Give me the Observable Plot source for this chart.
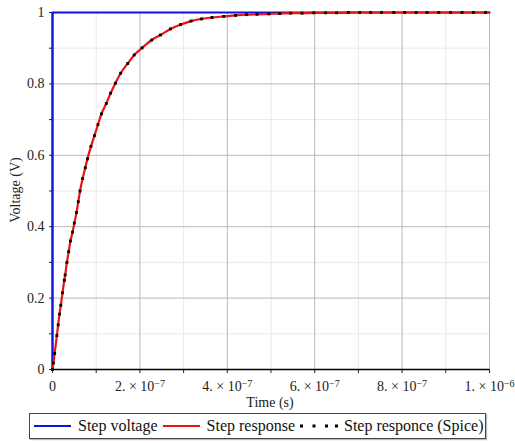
<!DOCTYPE html>
<html><head><meta charset="utf-8">
<script src="https://cdn.jsdelivr.net/npm/d3@7"></script>
<script src="https://cdn.jsdelivr.net/npm/@observablehq/plot@0.6"></script>
<style>
body{margin:0;background:#fff;font-family:"Liberation Serif",serif;}
#wrap{position:relative;width:515px;height:443px;overflow:hidden;}
#legend{position:absolute;left:29px;top:413px;width:455px;height:24px;border:1px solid #444;box-shadow:1px 1px 1px #bbb;display:flex;align-items:center;font-family:"Liberation Serif",serif;font-size:16px;color:#111;white-space:nowrap;}
#legend svg{flex:none;}
#chart svg text{font-family:"Liberation Serif",serif;font-size:14px;}
</style></head><body><div id="wrap"><div id="chart"></div><div id="legend"></div></div>
<script>
// Step voltage (source)
const stepTime = [0, 0, 1e-6];
const stepVoltage = [0, 1, 1];

// Step response (analytic)
const responseTime = [0, 0.02e-7, 0.05e-7, 0.1e-7, 0.13e-7, 0.16e-7, 0.19e-7, 0.23e-7, 0.27e-7, 0.29e-7, 0.33e-7, 0.37e-7, 0.41e-7, 0.46e-7, 0.5e-7, 0.55e-7, 0.59e-7, 0.63e-7, 0.69e-7, 0.75e-7, 0.8e-7, 0.88e-7, 0.96e-7, 1.04e-7, 1.12e-7, 1.23e-7, 1.33e-7, 1.44e-7, 1.56e-7, 1.72e-7, 1.87e-7, 2.05e-7, 2.27e-7, 2.47e-7, 2.7e-7, 2.93e-7, 3.17e-7, 3.41e-7, 3.65e-7, 3.92e-7, 4.19e-7, 4.44e-7, 4.68e-7, 4.95e-7, 5.2e-7, 5.45e-7, 5.71e-7, 5.98e-7, 6.5e-7, 7.0e-7, 8.0e-7, 9.0e-7, 1e-6];
const responseVoltage = [0, 0.018, 0.045, 0.095, 0.125, 0.155, 0.18, 0.215, 0.25, 0.265, 0.3, 0.33, 0.36, 0.385, 0.41, 0.44, 0.47, 0.5, 0.535, 0.565, 0.59, 0.625, 0.655, 0.686, 0.716, 0.745, 0.774, 0.802, 0.83, 0.857, 0.881, 0.901, 0.923, 0.937, 0.954, 0.966, 0.976, 0.982, 0.986, 0.989, 0.992, 0.994, 0.995, 0.996, 0.997, 0.998, 0.998, 0.999, 0.999, 1, 1, 1, 1];

// Spice simulation points (dots)
const spiceTime = [0, 0.02e-7, 0.05e-7, 0.1e-7, 0.13e-7, 0.16e-7, 0.19e-7, 0.23e-7, 0.27e-7, 0.29e-7, 0.33e-7, 0.37e-7, 0.41e-7, 0.46e-7, 0.5e-7, 0.55e-7, 0.59e-7, 0.63e-7, 0.69e-7, 0.75e-7, 0.8e-7, 0.88e-7, 0.96e-7, 1.04e-7, 1.12e-7, 1.23e-7, 1.33e-7, 1.44e-7, 1.56e-7, 1.72e-7, 1.87e-7, 2.05e-7, 2.27e-7, 2.47e-7, 2.7e-7, 2.93e-7, 3.17e-7, 3.41e-7, 3.65e-7, 3.92e-7, 4.19e-7, 4.44e-7, 4.68e-7, 4.95e-7, 5.2e-7, 5.45e-7, 5.71e-7, 5.98e-7, 6.25e-7, 6.5e-7, 6.77e-7, 7.03e-7, 7.28e-7, 7.53e-7, 7.81e-7, 8.06e-7, 8.32e-7, 8.57e-7, 8.84e-7, 9.11e-7, 9.37e-7, 9.63e-7, 9.91e-7];
const spiceVoltage = [0, 0.018, 0.045, 0.095, 0.125, 0.155, 0.18, 0.215, 0.25, 0.265, 0.3, 0.33, 0.36, 0.385, 0.41, 0.44, 0.47, 0.5, 0.535, 0.565, 0.59, 0.625, 0.655, 0.686, 0.716, 0.745, 0.774, 0.802, 0.83, 0.857, 0.881, 0.901, 0.923, 0.937, 0.954, 0.966, 0.976, 0.982, 0.986, 0.989, 0.992, 0.994, 0.995, 0.996, 0.997, 0.998, 0.998, 0.999, 0.999, 0.999, 1, 1, 1, 1, 1, 1, 1, 1, 1, 1, 1, 1, 1];

// Axis ticks and labels
const xMajor = [0, 2e-7, 4e-7, 6e-7, 8e-7, 1e-6];
const xLabels = ["0", "2. × 10^-7", "4. × 10^-7", "6. × 10^-7", "8. × 10^-7", "1. × 10^-6"];
const xMinor = [1e-7, 3e-7, 5e-7, 7e-7, 9e-7];
const yMajor = [0, 0.2, 0.4, 0.6, 0.8, 1];
const yLabels = ["0", "0.2", "0.4", "0.6", "0.8", "1"];
const yMinor = [0.1, 0.3, 0.5, 0.7, 0.9];

const legendItems = ["Step voltage", "Step response", "Step responce (Spice)"];

const stepData = stepTime.map((t, i) => ({t, v: stepVoltage[i]}));
const respData = responseTime.map((t, i) => ({t, v: responseVoltage[i]}));
const spiceData = spiceTime.map((t, i) => ({t, v: spiceVoltage[i]}));

const serif = "'Liberation Serif', serif";
const chart = Plot.plot({
  width: 515,
  height: 412,
  marginLeft: 52,
  marginRight: 26,
  marginTop: 12,
  marginBottom: 43,
  style: {fontFamily: serif, fontSize: "14px", color: "#222", background: "#fff", overflow: "visible"},
  x: {domain: [0, 1e-6]},
  y: {domain: [0, 1]},
  marks: [
    Plot.gridX(xMinor, {stroke: "#e9e9e9", strokeOpacity: 1, strokeWidth: 1}),
    Plot.gridY(yMinor, {stroke: "#e9e9e9", strokeOpacity: 1, strokeWidth: 1}),
    Plot.gridX(xMajor, {stroke: "#b8b8b8", strokeOpacity: 1, strokeWidth: 1}),
    Plot.gridY(yMajor, {stroke: "#b8b8b8", strokeOpacity: 1, strokeWidth: 1}),
    Plot.axisX(xMinor, {tickSize: 4, tickFormat: () => "", label: null, stroke: "#222"}),
    Plot.axisX(xMajor, {tickSize: 4, tickPadding: 8, tickFormat: d => xLabels[xMajor.indexOf(d)], label: null, stroke: "#222"}),
    Plot.axisY(yMinor, {tickSize: 3, tickFormat: () => "", label: null, stroke: "#222"}),
    Plot.axisY(yMajor, {tickSize: 3, tickPadding: 5, tickFormat: d => yLabels[yMajor.indexOf(d)], label: null, stroke: "#222"}),
    Plot.ruleY([0], {stroke: "#000", strokeWidth: 1.5}),
    Plot.ruleX([0], {stroke: "#000", strokeWidth: 1.5}),
    Plot.line(stepData, {x: "t", y: "v", stroke: "#0a14e6", strokeWidth: 2.2}),
    Plot.line(respData, {x: "t", y: "v", stroke: "#f01010", strokeWidth: 2.2, curve: "monotone-x"}),
    Plot.dot(spiceData, {x: "t", y: "v", symbol: "square", r: 1.6, fill: "#000", stroke: "none"})
  ]
});

const svg = d3.select(chart);
// superscript exponents on x tick labels
svg.selectAll('g[aria-label="x-axis tick label"] text').each(function() {
  const s = this.textContent;
  if (s.includes("^")) {
    const [base, exp] = s.split("^");
    const t = d3.select(this);
    t.text(null);
    t.append("tspan").text(base);
    t.append("tspan").attr("dy", "-0.45em").style("font-size", "10px").text(exp.replace("-", "−"));
  }
});
svg.append("text")
  .attr("transform", "translate(20,190) rotate(-90)")
  .attr("text-anchor", "middle")
  .attr("fill", "#222")
  .text("Voltage (V)");
svg.append("text")
  .attr("x", 270).attr("y", 407)
  .attr("text-anchor", "middle")
  .attr("fill", "#222")
  .text("Time (s)");

document.getElementById("chart").appendChild(chart);

// Legend
const legend = d3.select("#legend");
const colors = ["#0a14e6", "#f01010", null];
legendItems.forEach((name, i) => {
  const sw = legend.append("svg").attr("width", 38).attr("height", 10)
    .style("margin-left", i === 0 ? "4px" : "5px");
  if (colors[i]) {
    sw.append("line").attr("x1", 0).attr("x2", 37).attr("y1", 5).attr("y2", 5)
      .attr("stroke", colors[i]).attr("stroke-width", 2);
  } else {
    [0, 12.5, 25, 35].forEach(x => sw.append("rect").attr("x", x).attr("y", 3.5).attr("width", 3).attr("height", 3).attr("fill", "#000"));
  }
  legend.append("span").style("margin-left", "6px").text(name);
});
</script></body></html>
